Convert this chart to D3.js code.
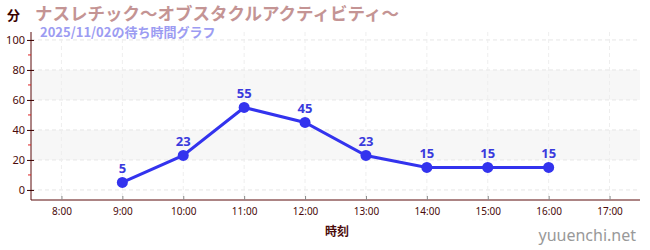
<!DOCTYPE html>
<html><head><meta charset="utf-8">
<script src="https://cdn.jsdelivr.net/npm/d3@7"></script>
<style>body{margin:0;background:#fff;}svg{display:block;font-family:"Noto Sans CJK JP","Noto Sans",sans-serif;}</style>
</head><body>
<svg id="c" width="650" height="250"></svg>
<script>
const times = ["9:00","10:00","11:00","12:00","13:00","14:00","15:00","16:00"];
const waits = [5,23,55,45,23,15,15,15];
const hourTicks = ["8:00","9:00","10:00","11:00","12:00","13:00","14:00","15:00","16:00","17:00"];
const yTicks = [0,20,40,60,80,100];
const yMinor = [10,30,50,70,90];
const bands = [[20,40],[60,80]];
const title = "ナスレチック～オブスタクルアクティビティ～";
const subtitle = "2025/11/02の待ち時間グラフ";

const svg = d3.select("#c");
const L = 31, R = 640, T = 32, B = 200;
const toH = s => { const [h,m] = s.split(":").map(Number); return h + m/60; };
const x = d3.scaleLinear().domain([7.5, 17.5]).range([L, R]);
const y = d3.scaleLinear().domain([-6.7, 105.3]).range([B, T]);

svg.selectAll(".band").data(bands).enter().append("rect")
  .attr("x", L).attr("width", R - L)
  .attr("y", d => y(d[1])).attr("height", d => y(d[0]) - y(d[1]))
  .attr("fill", "#f7f7f7");

svg.selectAll(".hg").data(yTicks).enter().append("line")
  .attr("x1", L).attr("x2", R).attr("y1", d => y(d)).attr("y2", d => y(d))
  .attr("stroke", "#e6e6e6").attr("stroke-dasharray", "4,3");
svg.selectAll(".vg").data(hourTicks).enter().append("line")
  .attr("x1", d => x(toH(d))).attr("x2", d => x(toH(d))).attr("y1", T).attr("y2", B)
  .attr("stroke", "#eeeeee").attr("stroke-dasharray", "4,3");

const yAxis = svg.append("g").attr("transform", `translate(${L},0)`)
  .call(d3.axisLeft(y).tickValues(yTicks).tickSize(4).tickPadding(2));
yAxis.select(".domain").attr("stroke", "#5a0a0a").attr("d", `M0,${T}V${B}`);
yAxis.selectAll(".tick line").attr("stroke", "#3a0000").attr("x1", -4).attr("x2", 3);
yAxis.selectAll(".tick text").attr("fill", "#4a0a0a").attr("font-size", 11)
  .attr("font-family", "'Noto Sans', sans-serif");
svg.selectAll(".ym").data(yMinor).enter().append("line")
  .attr("x1", L - 3).attr("x2", L).attr("y1", d => y(d)).attr("y2", d => y(d))
  .attr("stroke", "#dd2222");

const xAxis = svg.append("g").attr("transform", `translate(0,${B})`)
  .call(d3.axisBottom(x).tickValues(hourTicks.map(toH)).tickFormat((d,i) => hourTicks[i]).tickSize(0).tickPadding(8));
xAxis.select(".domain").attr("stroke", "#5a0a0a").attr("d", `M${L},0H${R}`);
xAxis.selectAll(".tick text").attr("fill", "#4a0a0a").attr("font-size", 10)
  .attr("font-family", "'Noto Sans', sans-serif");
xAxis.selectAll(".tick").append("line").attr("y1", -4).attr("y2", 0).attr("stroke", "#888");

const pts = times.map((t, i) => ({ t: toH(t), v: waits[i] }));
svg.append("path").datum(pts)
  .attr("d", d3.line().x(d => x(d.t)).y(d => y(d.v)))
  .attr("fill", "none").attr("stroke", "#3333ee").attr("stroke-width", 3);
svg.selectAll(".pt").data(pts).enter().append("circle")
  .attr("cx", d => x(d.t)).attr("cy", d => y(d.v)).attr("r", 5.5).attr("fill", "#3333ee");
svg.selectAll(".lb").data(pts).enter().append("text")
  .attr("x", d => x(d.t)).attr("y", d => y(d.v) - 9)
  .attr("text-anchor", "middle").attr("fill", "#3a3add").attr("font-size", 13).attr("font-weight", "bold")
  .attr("font-family", "'Noto Sans', sans-serif")
  .text(d => d.v);

svg.append("text").attr("x", 7).attr("y", 20).attr("font-size", 13).attr("font-weight", "bold")
  .attr("fill", "#3a0000").text("分");
svg.append("text").attr("x", 35).attr("y", 20).attr("font-size", 17.5).attr("font-weight", "bold")
  .attr("fill", "#c49494").text(title);
svg.append("text").attr("x", 40).attr("y", 37).attr("font-size", 13).attr("font-weight", "bold")
  .attr("fill", "#9c9cf2").text(subtitle);
svg.append("text").attr("x", 337).attr("y", 236).attr("text-anchor", "middle").attr("font-size", 12)
  .attr("font-weight", "bold").attr("fill", "#4a0a0a").text("時刻");
svg.append("text").attr("x", 636).attr("y", 241).attr("text-anchor", "end").attr("font-size", 16)
  .attr("fill", "#999").attr("font-family", "'Noto Sans', sans-serif").text("yuuenchi.net");
</script>
</body></html>
